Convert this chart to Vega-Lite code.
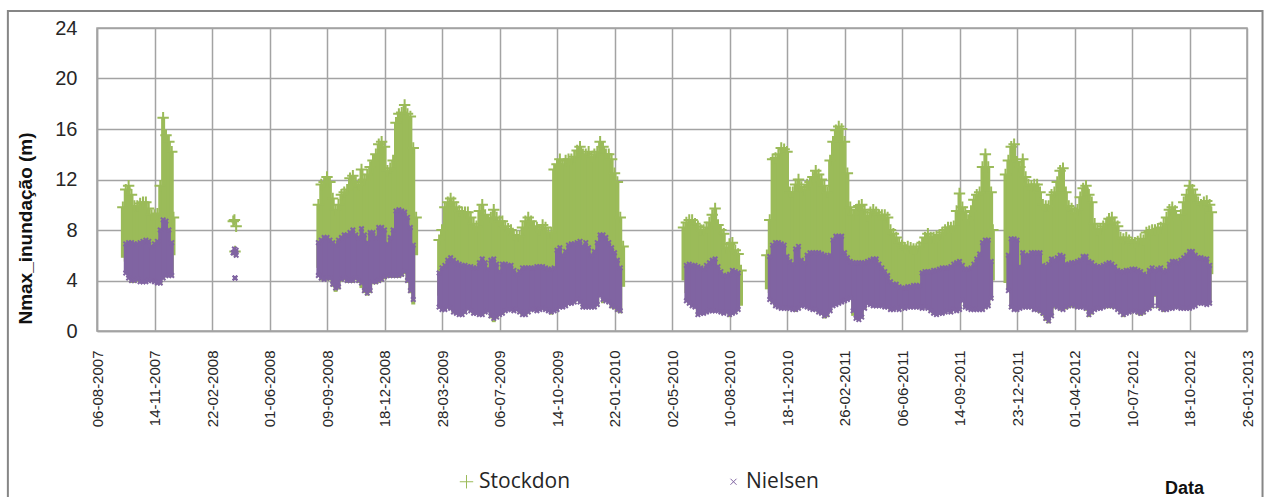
{"$schema":"https://vega.github.io/schema/vega-lite/v6.json","width":1150,"height":303,"autosize":"none","padding":{"left":97,"top":28,"right":25,"bottom":166},"background":"white",
"config":{"view":{"stroke":"#a3a3a3","strokeWidth":1.5},"font":"Liberation Sans"},
"datasets":{"series":[
{"d":"2007-09-20","sl":5.8,"sh":9.8},{"d":"2007-09-25","sl":5.5,"sh":11.2,"nl":4.6,"nh":6.9},{"d":"2007-09-30","sl":4.5,"sh":11.5,"nl":4.2,"nh":7.0},{"d":"2007-10-05","sl":3.8,"sh":10.8,"nl":4.0,"nh":7.0},{"d":"2007-10-10","sl":3.8,"sh":9.9,"nl":4.0,"nh":6.9},{"d":"2007-10-15","sl":3.9,"sh":9.9,"nl":4.1,"nh":6.9},{"d":"2007-10-20","sl":3.8,"sh":10.1,"nl":3.9,"nh":7.0},{"d":"2007-10-25","sl":3.8,"sh":10.2,"nl":3.9,"nh":7.1},{"d":"2007-10-30","sl":3.8,"sh":10.2,"nl":3.9,"nh":7.2},{"d":"2007-11-04","sl":3.9,"sh":9.7,"nl":4.0,"nh":7.1},{"d":"2007-11-09","sl":3.9,"sh":9.2,"nl":4.0,"nh":6.7},{"d":"2007-11-14","sl":3.8,"sh":9.2,"nl":3.9,"nh":6.9},{"d":"2007-11-19","sl":3.7,"sh":9.3,"nl":3.8,"nh":7.1},{"d":"2007-11-24","sl":3.7,"sh":11.5,"nl":3.8,"nh":8.0},{"d":"2007-11-29","sl":4.1,"sh":16.9,"nl":4.2,"nh":8.8},{"d":"2007-12-04","sl":4.3,"sh":15.5,"nl":4.4,"nh":8.7},{"d":"2007-12-09","sl":4.3,"sh":15.0,"nl":4.4,"nh":8.0},{"d":"2007-12-14","sl":4.3,"sh":14.2,"nl":4.4,"nh":7.0},{"d":"2007-12-17","sl":6.0,"sh":9.0},
{"d":"2008-03-30","sl":8.6,"sh":8.7,"nl":6.2,"nh":6.2},{"d":"2008-04-01","sl":8.5,"sh":8.8,"nl":6.2,"nh":6.5},{"d":"2008-04-02","sl":6.0,"sh":6.3,"nl":4.2,"nh":4.2},{"d":"2008-04-04","sl":8.3,"sh":8.3,"nl":6.0,"nh":6.4},
{"d":"2008-08-25","sl":5.0,"sh":10.0,"nl":4.4,"nh":7.0},{"d":"2008-08-30","sl":4.0,"sh":11.6,"nl":4.2,"nh":7.2},{"d":"2008-09-04","sl":4.0,"sh":11.8,"nl":4.1,"nh":7.4},{"d":"2008-09-09","sl":4.0,"sh":12.2,"nl":4.2,"nh":7.4},{"d":"2008-09-14","sl":4.0,"sh":11.8,"nl":4.2,"nh":7.2},{"d":"2008-09-19","sl":3.5,"sh":10.5,"nl":3.7,"nh":7.0},{"d":"2008-09-24","sl":3.1,"sh":9.6,"nl":3.4,"nh":6.8},{"d":"2008-09-29","sl":3.3,"sh":10.0,"nl":3.5,"nh":7.2},{"d":"2008-10-04","sl":3.9,"sh":10.8,"nl":4.1,"nh":7.4},{"d":"2008-10-09","sl":4.0,"sh":11.0,"nl":4.2,"nh":7.6},{"d":"2008-10-14","sl":3.8,"sh":11.2,"nl":4.0,"nh":7.6},{"d":"2008-10-19","sl":3.8,"sh":12.1,"nl":4.0,"nh":7.8},{"d":"2008-10-24","sl":3.8,"sh":12.3,"nl":4.0,"nh":8.0},{"d":"2008-10-29","sl":4.0,"sh":11.8,"nl":4.2,"nh":7.6},{"d":"2008-11-03","sl":3.8,"sh":11.6,"nl":4.0,"nh":7.4},{"d":"2008-11-08","sl":3.4,"sh":12.8,"nl":3.8,"nh":8.1},{"d":"2008-11-13","sl":3.0,"sh":12.0,"nl":3.2,"nh":7.6},{"d":"2008-11-18","sl":2.8,"sh":12.4,"nl":3.0,"nh":7.0},{"d":"2008-11-23","sl":3.0,"sh":13.0,"nl":3.2,"nh":7.8},{"d":"2008-11-28","sl":3.7,"sh":13.5,"nl":3.9,"nh":7.8},{"d":"2008-12-03","sl":3.7,"sh":14.0,"nl":3.9,"nh":7.4},{"d":"2008-12-08","sl":3.8,"sh":14.8,"nl":4.0,"nh":8.2},{"d":"2008-12-13","sl":3.9,"sh":15.0,"nl":4.1,"nh":8.2},{"d":"2008-12-18","sl":4.1,"sh":14.6,"nl":4.3,"nh":8.0},{"d":"2008-12-23","sl":4.2,"sh":12.7,"nl":4.4,"nh":6.9},{"d":"2008-12-28","sl":4.2,"sh":12.9,"nl":4.4,"nh":7.4},{"d":"2009-01-02","sl":4.2,"sh":13.5,"nl":4.4,"nh":8.0},{"d":"2009-01-07","sl":4.2,"sh":16.5,"nl":4.4,"nh":9.5},{"d":"2009-01-12","sl":4.2,"sh":17.2,"nl":4.4,"nh":9.6},{"d":"2009-01-17","sl":4.3,"sh":17.3,"nl":4.5,"nh":9.5},{"d":"2009-01-22","sl":4.5,"sh":17.9,"nl":4.7,"nh":9.4},{"d":"2009-01-27","sl":3.8,"sh":17.2,"nl":4.0,"nh":9.0},{"d":"2009-02-01","sl":3.0,"sh":17.0,"nl":3.2,"nh":8.2},{"d":"2009-02-06","sl":2.1,"sh":14.5,"nl":2.5,"nh":6.8},{"d":"2009-02-11","sl":6.0,"sh":9.0},
{"d":"2009-03-23","sl":2.8,"sh":7.2,"nl":1.9,"nh":4.6},{"d":"2009-03-28","sl":1.6,"sh":8.0,"nl":1.7,"nh":5.0},{"d":"2009-04-02","sl":1.6,"sh":9.8,"nl":1.7,"nh":5.2},{"d":"2009-04-07","sl":1.8,"sh":10.2,"nl":1.9,"nh":5.6},{"d":"2009-04-12","sl":1.7,"sh":10.5,"nl":1.8,"nh":5.8},{"d":"2009-04-17","sl":1.4,"sh":10.2,"nl":1.5,"nh":5.6},{"d":"2009-04-22","sl":1.3,"sh":9.8,"nl":1.4,"nh":5.4},{"d":"2009-04-27","sl":1.2,"sh":9.5,"nl":1.3,"nh":5.3},{"d":"2009-05-02","sl":1.2,"sh":9.4,"nl":1.3,"nh":5.2},{"d":"2009-05-07","sl":1.4,"sh":9.4,"nl":1.5,"nh":5.2},{"d":"2009-05-12","sl":1.7,"sh":9.4,"nl":1.8,"nh":5.1},{"d":"2009-05-17","sl":1.5,"sh":9.0,"nl":1.6,"nh":5.1},{"d":"2009-05-22","sl":1.3,"sh":8.5,"nl":1.4,"nh":5.0},{"d":"2009-05-27","sl":1.3,"sh":8.3,"nl":1.4,"nh":5.0},{"d":"2009-06-01","sl":1.2,"sh":9.5,"nl":1.3,"nh":5.4},{"d":"2009-06-06","sl":1.2,"sh":10.0,"nl":1.3,"nh":5.7},{"d":"2009-06-11","sl":1.4,"sh":9.2,"nl":1.5,"nh":5.4},{"d":"2009-06-16","sl":1.5,"sh":8.8,"nl":1.6,"nh":4.9},{"d":"2009-06-21","sl":1.0,"sh":9.0,"nl":1.2,"nh":5.6},{"d":"2009-06-26","sl":0.7,"sh":9.6,"nl":1.0,"nh":5.7},{"d":"2009-07-01","sl":1.0,"sh":9.0,"nl":1.1,"nh":5.3},{"d":"2009-07-06","sl":1.2,"sh":8.7,"nl":1.3,"nh":4.7},{"d":"2009-07-11","sl":1.3,"sh":8.7,"nl":1.4,"nh":5.3},{"d":"2009-07-16","sl":1.5,"sh":8.3,"nl":1.6,"nh":5.3},{"d":"2009-07-21","sl":1.6,"sh":8.1,"nl":1.7,"nh":5.2},{"d":"2009-07-26","sl":1.6,"sh":8.0,"nl":1.7,"nh":5.2},{"d":"2009-07-31","sl":1.5,"sh":7.6,"nl":1.6,"nh":4.8},{"d":"2009-08-05","sl":1.6,"sh":7.5,"nl":1.7,"nh":4.5},{"d":"2009-08-10","sl":1.4,"sh":7.5,"nl":1.5,"nh":4.7},{"d":"2009-08-15","sl":1.2,"sh":8.2,"nl":1.3,"nh":5.0},{"d":"2009-08-20","sl":1.2,"sh":8.7,"nl":1.3,"nh":5.0},{"d":"2009-08-25","sl":1.4,"sh":9.0,"nl":1.5,"nh":5.0},{"d":"2009-08-30","sl":1.6,"sh":8.7,"nl":1.7,"nh":5.0},{"d":"2009-09-04","sl":1.6,"sh":8.3,"nl":1.7,"nh":5.0},{"d":"2009-09-09","sl":1.5,"sh":8.2,"nl":1.6,"nh":5.1},{"d":"2009-09-14","sl":1.6,"sh":8.0,"nl":1.7,"nh":5.1},{"d":"2009-09-19","sl":1.7,"sh":8.4,"nl":1.8,"nh":5.1},{"d":"2009-09-24","sl":1.6,"sh":8.2,"nl":1.7,"nh":5.0},{"d":"2009-09-29","sl":1.5,"sh":7.8,"nl":1.6,"nh":4.9},{"d":"2009-10-04","sl":1.3,"sh":7.8,"nl":1.5,"nh":4.9},{"d":"2009-10-09","sl":1.5,"sh":12.8,"nl":1.6,"nh":5.0},{"d":"2009-10-14","sl":1.6,"sh":13.2,"nl":1.7,"nh":6.4},{"d":"2009-10-19","sl":1.8,"sh":13.6,"nl":1.9,"nh":6.6},{"d":"2009-10-24","sl":1.8,"sh":13.2,"nl":1.9,"nh":6.0},{"d":"2009-10-29","sl":1.9,"sh":13.5,"nl":2.0,"nh":6.3},{"d":"2009-11-03","sl":2.1,"sh":13.6,"nl":2.2,"nh":6.8},{"d":"2009-11-08","sl":2.1,"sh":13.6,"nl":2.2,"nh":6.9},{"d":"2009-11-13","sl":2.2,"sh":13.8,"nl":2.3,"nh":6.9},{"d":"2009-11-18","sl":2.4,"sh":14.3,"nl":2.5,"nh":7.0},{"d":"2009-11-23","sl":2.2,"sh":14.6,"nl":2.3,"nh":7.1},{"d":"2009-11-28","sl":1.8,"sh":14.0,"nl":1.9,"nh":6.7},{"d":"2009-12-03","sl":1.8,"sh":14.0,"nl":1.9,"nh":7.0},{"d":"2009-12-08","sl":1.8,"sh":14.2,"nl":1.9,"nh":6.6},{"d":"2009-12-13","sl":1.8,"sh":13.8,"nl":1.9,"nh":6.0},{"d":"2009-12-18","sl":1.8,"sh":14.0,"nl":1.9,"nh":6.3},{"d":"2009-12-23","sl":2.0,"sh":14.2,"nl":2.1,"nh":7.0},{"d":"2009-12-28","sl":2.7,"sh":15.0,"nl":2.8,"nh":7.6},{"d":"2010-01-02","sl":2.2,"sh":14.6,"nl":2.5,"nh":7.6},{"d":"2010-01-07","sl":2.3,"sh":14.0,"nl":2.4,"nh":7.4},{"d":"2010-01-12","sl":2.2,"sh":14.0,"nl":2.3,"nh":7.0},{"d":"2010-01-17","sl":1.8,"sh":13.6,"nl":2.0,"nh":6.6},{"d":"2010-01-22","sl":1.7,"sh":12.5,"nl":1.9,"nh":6.2},{"d":"2010-01-27","sl":1.5,"sh":11.8,"nl":1.7,"nh":5.6},{"d":"2010-02-01","sl":1.4,"sh":9.0,"nl":1.6,"nh":5.0},{"d":"2010-02-06","sl":3.5,"sh":6.7},
{"d":"2010-05-22","sl":4.0,"sh":8.2},{"d":"2010-05-27","sl":3.0,"sh":8.6,"nl":2.4,"nh":5.2},{"d":"2010-06-01","sl":2.1,"sh":8.8,"nl":2.2,"nh":5.3},{"d":"2010-06-06","sl":1.9,"sh":8.8,"nl":2.0,"nh":5.2},{"d":"2010-06-11","sl":1.8,"sh":8.5,"nl":1.9,"nh":5.2},{"d":"2010-06-16","sl":1.2,"sh":8.3,"nl":1.3,"nh":5.1},{"d":"2010-06-21","sl":1.3,"sh":8.0,"nl":1.4,"nh":5.0},{"d":"2010-06-26","sl":1.3,"sh":8.0,"nl":1.4,"nh":4.9},{"d":"2010-07-01","sl":1.4,"sh":8.2,"nl":1.5,"nh":5.2},{"d":"2010-07-06","sl":1.5,"sh":8.6,"nl":1.6,"nh":5.4},{"d":"2010-07-11","sl":1.5,"sh":9.2,"nl":1.6,"nh":5.6},{"d":"2010-07-16","sl":1.5,"sh":9.7,"nl":1.6,"nh":5.7},{"d":"2010-07-21","sl":1.5,"sh":8.4,"nl":1.6,"nh":5.1},{"d":"2010-07-26","sl":1.4,"sh":8.0,"nl":1.5,"nh":4.7},{"d":"2010-07-31","sl":1.3,"sh":7.7,"nl":1.4,"nh":4.4},{"d":"2010-08-05","sl":1.4,"sh":6.6,"nl":1.5,"nh":4.4},{"d":"2010-08-10","sl":1.1,"sh":6.9,"nl":1.3,"nh":4.5},{"d":"2010-08-15","sl":1.3,"sh":7.0,"nl":1.4,"nh":4.8},{"d":"2010-08-20","sl":1.4,"sh":6.4,"nl":1.5,"nh":4.7},{"d":"2010-08-25","sl":1.6,"sh":6.1,"nl":1.7,"nh":4.6},{"d":"2010-08-30","sl":2.0,"sh":4.8},
{"d":"2010-10-14","sl":3.3,"sh":6.0},{"d":"2010-10-19","sl":3.0,"sh":8.8,"nl":2.5,"nh":5.9},{"d":"2010-10-24","sl":2.2,"sh":13.6,"nl":2.3,"nh":6.8},{"d":"2010-10-29","sl":1.9,"sh":13.7,"nl":2.0,"nh":7.0},{"d":"2010-11-03","sl":1.8,"sh":14.0,"nl":1.9,"nh":7.0},{"d":"2010-11-08","sl":1.7,"sh":14.5,"nl":1.8,"nh":6.9},{"d":"2010-11-13","sl":1.7,"sh":14.4,"nl":1.8,"nh":6.8},{"d":"2010-11-18","sl":1.7,"sh":14.2,"nl":1.8,"nh":5.9},{"d":"2010-11-23","sl":1.7,"sh":11.0,"nl":1.8,"nh":5.5},{"d":"2010-11-28","sl":1.6,"sh":11.0,"nl":1.7,"nh":5.3},{"d":"2010-12-03","sl":1.5,"sh":11.6,"nl":1.7,"nh":6.5},{"d":"2010-12-08","sl":1.7,"sh":12.0,"nl":1.8,"nh":6.7},{"d":"2010-12-13","sl":1.9,"sh":11.4,"nl":2.0,"nh":5.6},{"d":"2010-12-18","sl":1.9,"sh":11.2,"nl":2.0,"nh":5.4},{"d":"2010-12-23","sl":1.8,"sh":11.6,"nl":1.9,"nh":6.0},{"d":"2010-12-28","sl":1.7,"sh":11.8,"nl":1.8,"nh":6.2},{"d":"2011-01-02","sl":1.6,"sh":12.2,"nl":1.7,"nh":6.2},{"d":"2011-01-07","sl":1.6,"sh":12.7,"nl":1.7,"nh":6.2},{"d":"2011-01-12","sl":1.4,"sh":12.4,"nl":1.5,"nh":6.2},{"d":"2011-01-17","sl":1.3,"sh":12.0,"nl":1.4,"nh":6.1},{"d":"2011-01-22","sl":1.0,"sh":11.5,"nl":1.2,"nh":6.0},{"d":"2011-01-27","sl":1.1,"sh":11.0,"nl":1.3,"nh":5.9},{"d":"2011-02-01","sl":1.5,"sh":13.5,"nl":1.6,"nh":6.0},{"d":"2011-02-06","sl":1.9,"sh":15.0,"nl":2.0,"nh":7.2},{"d":"2011-02-11","sl":2.0,"sh":15.9,"nl":2.1,"nh":7.5},{"d":"2011-02-16","sl":2.1,"sh":16.2,"nl":2.2,"nh":7.5},{"d":"2011-02-21","sl":2.2,"sh":16.0,"nl":2.3,"nh":7.5},{"d":"2011-02-26","sl":2.3,"sh":15.0,"nl":2.4,"nh":6.2},{"d":"2011-03-03","sl":2.4,"sh":12.5,"nl":2.5,"nh":5.8},{"d":"2011-03-08","sl":2.5,"sh":9.8,"nl":2.6,"nh":5.5},{"d":"2011-03-13","sl":1.2,"sh":9.2,"nl":1.6,"nh":5.4},{"d":"2011-03-18","sl":0.9,"sh":9.6,"nl":1.0,"nh":5.4},{"d":"2011-03-23","sl":0.8,"sh":9.9,"nl":0.9,"nh":5.4},{"d":"2011-03-28","sl":1.0,"sh":10.0,"nl":1.1,"nh":5.4},{"d":"2011-04-02","sl":1.7,"sh":9.6,"nl":1.8,"nh":5.4},{"d":"2011-04-07","sl":2.1,"sh":9.1,"nl":2.2,"nh":5.5},{"d":"2011-04-12","sl":2.0,"sh":9.4,"nl":2.1,"nh":5.6},{"d":"2011-04-17","sl":1.9,"sh":9.6,"nl":2.0,"nh":5.7},{"d":"2011-04-22","sl":1.9,"sh":9.4,"nl":2.0,"nh":5.7},{"d":"2011-04-27","sl":1.9,"sh":9.2,"nl":2.0,"nh":5.3},{"d":"2011-05-02","sl":1.9,"sh":9.2,"nl":2.0,"nh":5.0},{"d":"2011-05-07","sl":1.8,"sh":9.2,"nl":1.9,"nh":4.7},{"d":"2011-05-12","sl":1.8,"sh":9.0,"nl":1.9,"nh":4.4},{"d":"2011-05-17","sl":1.6,"sh":8.0,"nl":1.7,"nh":3.9},{"d":"2011-05-22","sl":1.6,"sh":7.7,"nl":1.7,"nh":3.7},{"d":"2011-05-27","sl":1.7,"sh":7.4,"nl":1.8,"nh":3.7},{"d":"2011-06-01","sl":1.6,"sh":7.0,"nl":1.7,"nh":3.5},{"d":"2011-06-06","sl":1.8,"sh":6.8,"nl":1.9,"nh":3.4},{"d":"2011-06-11","sl":1.7,"sh":6.6,"nl":1.8,"nh":3.4},{"d":"2011-06-16","sl":1.8,"sh":6.7,"nl":1.9,"nh":3.5},{"d":"2011-06-21","sl":1.8,"sh":6.6,"nl":1.9,"nh":3.5},{"d":"2011-06-26","sl":1.8,"sh":6.5,"nl":1.9,"nh":3.6},{"d":"2011-07-01","sl":1.8,"sh":6.5,"nl":1.9,"nh":3.6},{"d":"2011-07-06","sl":1.8,"sh":6.7,"nl":1.9,"nh":3.6},{"d":"2011-07-11","sl":1.7,"sh":7.0,"nl":1.8,"nh":4.6},{"d":"2011-07-16","sl":1.8,"sh":7.4,"nl":1.9,"nh":4.7},{"d":"2011-07-21","sl":1.7,"sh":7.7,"nl":1.8,"nh":4.7},{"d":"2011-07-26","sl":1.5,"sh":7.4,"nl":1.6,"nh":4.7},{"d":"2011-07-31","sl":1.3,"sh":7.4,"nl":1.4,"nh":4.8},{"d":"2011-08-05","sl":1.2,"sh":7.5,"nl":1.3,"nh":4.8},{"d":"2011-08-10","sl":1.3,"sh":7.6,"nl":1.4,"nh":4.9},{"d":"2011-08-15","sl":1.3,"sh":7.8,"nl":1.4,"nh":5.0},{"d":"2011-08-20","sl":1.4,"sh":8.0,"nl":1.5,"nh":5.0},{"d":"2011-08-25","sl":1.5,"sh":8.2,"nl":1.6,"nh":5.0},{"d":"2011-08-30","sl":1.4,"sh":8.2,"nl":1.5,"nh":5.1},{"d":"2011-09-04","sl":1.6,"sh":8.3,"nl":1.7,"nh":5.3},{"d":"2011-09-09","sl":1.5,"sh":9.5,"nl":1.6,"nh":5.4},{"d":"2011-09-14","sl":1.6,"sh":10.9,"nl":1.7,"nh":5.5},{"d":"2011-09-19","sl":2.3,"sh":9.8,"nl":2.4,"nh":5.2},{"d":"2011-09-24","sl":1.8,"sh":9.4,"nl":1.9,"nh":4.9},{"d":"2011-09-29","sl":1.7,"sh":8.8,"nl":1.8,"nh":4.9},{"d":"2011-10-04","sl":1.6,"sh":9.5,"nl":1.7,"nh":5.0},{"d":"2011-10-09","sl":1.6,"sh":10.4,"nl":1.7,"nh":5.3},{"d":"2011-10-14","sl":1.6,"sh":10.8,"nl":1.7,"nh":5.7},{"d":"2011-10-19","sl":1.6,"sh":11.0,"nl":1.7,"nh":6.1},{"d":"2011-10-24","sl":1.6,"sh":13.0,"nl":1.7,"nh":7.0},{"d":"2011-10-29","sl":1.8,"sh":14.0,"nl":1.9,"nh":7.2},{"d":"2011-11-03","sl":1.9,"sh":13.0,"nl":2.0,"nh":7.2},{"d":"2011-11-08","sl":2.5,"sh":11.0,"nl":2.6,"nh":5.5},{"d":"2011-11-11","sl":4.0,"sh":8.0},
{"d":"2011-12-03","sl":3.8,"sh":12.4},{"d":"2011-12-08","sl":3.4,"sh":13.5,"nl":3.2,"nh":6.0},{"d":"2011-12-13","sl":1.8,"sh":14.6,"nl":1.9,"nh":7.3},{"d":"2011-12-18","sl":1.6,"sh":14.8,"nl":1.7,"nh":7.3},{"d":"2011-12-23","sl":1.6,"sh":13.4,"nl":1.7,"nh":7.2},{"d":"2011-12-28","sl":1.7,"sh":13.0,"nl":1.8,"nh":5.1},{"d":"2012-01-02","sl":1.8,"sh":13.6,"nl":1.9,"nh":6.2},{"d":"2012-01-07","sl":1.8,"sh":12.2,"nl":1.9,"nh":6.0},{"d":"2012-01-12","sl":1.8,"sh":11.6,"nl":1.9,"nh":6.0},{"d":"2012-01-17","sl":1.8,"sh":11.5,"nl":1.9,"nh":6.2},{"d":"2012-01-22","sl":1.6,"sh":11.6,"nl":1.7,"nh":6.2},{"d":"2012-01-27","sl":1.5,"sh":11.6,"nl":1.7,"nh":6.2},{"d":"2012-02-01","sl":1.4,"sh":11.0,"nl":1.6,"nh":6.2},{"d":"2012-02-06","sl":1.2,"sh":10.0,"nl":1.4,"nh":5.2},{"d":"2012-02-11","sl":0.8,"sh":9.9,"nl":1.0,"nh":5.1},{"d":"2012-02-16","sl":0.6,"sh":9.9,"nl":0.8,"nh":5.3},{"d":"2012-02-21","sl":1.1,"sh":10.8,"nl":1.2,"nh":5.7},{"d":"2012-02-26","sl":1.8,"sh":11.0,"nl":2.0,"nh":5.6},{"d":"2012-03-02","sl":1.8,"sh":11.8,"nl":1.9,"nh":5.8},{"d":"2012-03-07","sl":1.6,"sh":12.7,"nl":1.8,"nh":6.0},{"d":"2012-03-12","sl":1.6,"sh":12.9,"nl":1.7,"nh":5.9},{"d":"2012-03-17","sl":1.7,"sh":11.0,"nl":1.9,"nh":5.3},{"d":"2012-03-22","sl":1.8,"sh":9.9,"nl":2.0,"nh":5.3},{"d":"2012-03-27","sl":1.9,"sh":9.7,"nl":2.1,"nh":5.4},{"d":"2012-04-01","sl":1.8,"sh":9.4,"nl":2.0,"nh":5.4},{"d":"2012-04-06","sl":1.8,"sh":9.6,"nl":1.9,"nh":5.5},{"d":"2012-04-11","sl":1.8,"sh":10.6,"nl":1.9,"nh":5.6},{"d":"2012-04-16","sl":1.8,"sh":11.3,"nl":1.9,"nh":5.9},{"d":"2012-04-21","sl":1.6,"sh":11.5,"nl":1.8,"nh":5.9},{"d":"2012-04-26","sl":1.1,"sh":10.8,"nl":1.3,"nh":5.5},{"d":"2012-05-01","sl":1.3,"sh":10.2,"nl":1.5,"nh":5.4},{"d":"2012-05-06","sl":1.6,"sh":8.5,"nl":1.7,"nh":5.2},{"d":"2012-05-11","sl":1.7,"sh":8.0,"nl":1.8,"nh":5.1},{"d":"2012-05-16","sl":1.7,"sh":8.1,"nl":1.8,"nh":5.1},{"d":"2012-05-21","sl":1.8,"sh":8.3,"nl":1.9,"nh":5.2},{"d":"2012-05-26","sl":1.8,"sh":8.5,"nl":2.0,"nh":5.3},{"d":"2012-05-31","sl":1.8,"sh":8.9,"nl":2.0,"nh":5.4},{"d":"2012-06-05","sl":1.8,"sh":9.0,"nl":2.0,"nh":5.3},{"d":"2012-06-10","sl":1.8,"sh":8.6,"nl":1.9,"nh":5.1},{"d":"2012-06-15","sl":1.6,"sh":8.3,"nl":1.7,"nh":4.8},{"d":"2012-06-20","sl":1.4,"sh":7.4,"nl":1.5,"nh":4.7},{"d":"2012-06-25","sl":1.1,"sh":7.3,"nl":1.3,"nh":4.7},{"d":"2012-06-30","sl":1.3,"sh":7.4,"nl":1.4,"nh":4.8},{"d":"2012-07-05","sl":1.4,"sh":7.2,"nl":1.5,"nh":4.8},{"d":"2012-07-10","sl":1.5,"sh":7.0,"nl":1.6,"nh":4.9},{"d":"2012-07-15","sl":1.5,"sh":7.0,"nl":1.6,"nh":4.9},{"d":"2012-07-20","sl":1.3,"sh":7.1,"nl":1.5,"nh":4.8},{"d":"2012-07-25","sl":1.2,"sh":7.3,"nl":1.4,"nh":4.7},{"d":"2012-07-30","sl":1.3,"sh":7.2,"nl":1.5,"nh":4.5},{"d":"2012-08-04","sl":1.6,"sh":7.8,"nl":1.7,"nh":4.4},{"d":"2012-08-09","sl":1.7,"sh":7.9,"nl":1.8,"nh":4.8},{"d":"2012-08-14","sl":1.8,"sh":8.0,"nl":2.0,"nh":5.0},{"d":"2012-08-19","sl":2.7,"sh":8.0,"nl":2.9,"nh":4.8},{"d":"2012-08-24","sl":1.8,"sh":8.1,"nl":2.0,"nh":4.9},{"d":"2012-08-29","sl":1.7,"sh":8.2,"nl":1.8,"nh":5.0},{"d":"2012-09-03","sl":1.5,"sh":8.5,"nl":1.7,"nh":4.7},{"d":"2012-09-08","sl":1.6,"sh":9.0,"nl":1.7,"nh":4.8},{"d":"2012-09-13","sl":1.7,"sh":9.6,"nl":1.8,"nh":5.3},{"d":"2012-09-18","sl":1.7,"sh":9.8,"nl":1.8,"nh":5.5},{"d":"2012-09-23","sl":1.8,"sh":9.5,"nl":1.9,"nh":5.5},{"d":"2012-09-28","sl":1.8,"sh":8.8,"nl":1.9,"nh":5.4},{"d":"2012-10-03","sl":1.7,"sh":9.2,"nl":1.8,"nh":5.6},{"d":"2012-10-08","sl":1.7,"sh":10.2,"nl":1.8,"nh":5.8},{"d":"2012-10-13","sl":1.7,"sh":10.8,"nl":1.8,"nh":6.0},{"d":"2012-10-18","sl":1.7,"sh":11.5,"nl":1.8,"nh":6.3},{"d":"2012-10-23","sl":1.8,"sh":11.2,"nl":1.9,"nh":6.3},{"d":"2012-10-28","sl":1.9,"sh":10.8,"nl":2.0,"nh":6.0},{"d":"2012-11-02","sl":2.1,"sh":10.2,"nl":2.2,"nh":5.8},{"d":"2012-11-07","sl":2.1,"sh":10.0,"nl":2.2,"nh":5.8},{"d":"2012-11-12","sl":2.1,"sh":10.2,"nl":2.2,"nh":5.7},{"d":"2012-11-17","sl":2.0,"sh":10.3,"nl":2.1,"nh":5.7},{"d":"2012-11-22","sl":2.1,"sh":10.0,"nl":2.2,"nh":5.2},{"d":"2012-11-25","sl":4.5,"sh":9.4}
]},
"data":{"name":"series"},
"encoding":{"x":{"field":"d","type":"temporal","title":"Data","scale":{"type":"utc","domain":["2007-08-06","2013-01-26"]},
"axis":{"values":["2007-08-06","2007-11-14","2008-02-22","2008-06-01","2008-09-09","2008-12-18","2009-03-28","2009-07-06","2009-10-14","2010-01-22","2010-05-02","2010-08-10","2010-11-18","2011-02-26","2011-06-06","2011-09-14","2011-12-23","2012-04-01","2012-07-10","2012-10-18","2013-01-26"],
"labelExpr":"utcFormat(datum.value,'%d-%m-%Y')","labelAngle":-90,"labelFont":"Liberation Sans","labelFontSize":15,"labelColor":"#262626","labelPadding":19,"labelAlign":"right","labelBaseline":"middle","labelOverlap":false,"labelBound":false,"labelFlush":false,"tickSize":0,"grid":true,"gridColor":"#a3a3a3","gridWidth":1.5,"domainColor":"#a3a3a3","domainWidth":1.5,"titleFont":"Liberation Sans","titleFontSize":18,"titleFontWeight":"bold","titleColor":"#111111","titleX":1087,"titleY":148,"titleAngle":0,"titleAlign":"center"}}},
"layer":[
{"mark":{"type":"rule","color":"#9bbb59","strokeWidth":4},"encoding":{"y":{"field":"sl","type":"quantitative","title":"Nmax_inundação (m)","scale":{"domain":[0,24],"nice":false},"axis":{"values":[0,4,8,12,16,20,24],"labelFont":"Liberation Sans","labelFontSize":20,"labelColor":"#262626","labelPadding":20,"tickSize":0,"grid":true,"gridColor":"#a3a3a3","gridWidth":1.5,"domainColor":"#a3a3a3","domainWidth":1.5,"titleFont":"Liberation Sans","titleFontSize":19,"titleFontWeight":"bold","titleColor":"#111111","titleX":-62,"titleY":200,"titleAngle":-90}},"y2":{"field":"sh"}}},
{"mark":{"type":"point","filled":false,"strokeWidth":2,"opacity":1,"size":130},"encoding":{"y":{"field":"sh","type":"quantitative","title":"Nmax_inundação (m)"},
"color":{"datum":"Stockdon","type":"nominal","scale":{"domain":["Stockdon","Nielsen"],"range":["#9bbb59","#8064a2"]},"legend":{"title":null,"orient":"none","legendX":359,"legendY":443,"columns":2,"columnPadding":152,"labelFont":"Open Sans","labelFontSize":21,"labelColor":"#262626","symbolStrokeWidth":1,"symbolSize":180,"labelOffset":2}},
"shape":{"datum":"Stockdon","type":"nominal","scale":{"domain":["Stockdon","Nielsen"],"range":["M-1,0H1M0,-1V1","M-0.45,-0.45L0.45,0.45M-0.45,0.45L0.45,-0.45"]},"legend":{"title":null,"orient":"none","legendX":359,"legendY":443,"columns":2,"columnPadding":152}}}},
{"mark":{"type":"rule","color":"#8064a2","strokeWidth":4},"encoding":{"y":{"field":"nl","type":"quantitative","title":"Nmax_inundação (m)"},"y2":{"field":"nh"}}},
{"mark":{"type":"point","filled":false,"strokeWidth":2,"opacity":1,"size":100},"encoding":{"y":{"field":"nh","type":"quantitative","title":"Nmax_inundação (m)"},"color":{"datum":"Nielsen","type":"nominal"},"shape":{"datum":"Nielsen","type":"nominal"}}},
{"mark":{"type":"point","filled":false,"strokeWidth":2,"opacity":1,"size":100},"encoding":{"y":{"field":"nl","type":"quantitative","title":"Nmax_inundação (m)"},"color":{"datum":"Nielsen","type":"nominal"},"shape":{"datum":"Nielsen","type":"nominal"}}},
{"data":{"values":[{"from":"2007-03-04","to":"2013-02-22","top":25.35,"bottom":-20}]},"mark":{"type":"rect","fill":"transparent","stroke":"#868686","strokeWidth":2},"encoding":{"x":{"field":"from","type":"temporal","title":"Data","axis":{"values":["2007-08-06","2007-11-14","2008-02-22","2008-06-01","2008-09-09","2008-12-18","2009-03-28","2009-07-06","2009-10-14","2010-01-22","2010-05-02","2010-08-10","2010-11-18","2011-02-26","2011-06-06","2011-09-14","2011-12-23","2012-04-01","2012-07-10","2012-10-18","2013-01-26"],"labelExpr":"utcFormat(datum.value,'%d-%m-%Y')"}},"x2":{"field":"to"},"y":{"field":"top","type":"quantitative","title":"Nmax_inundação (m)"},"y2":{"field":"bottom"}}}
]}
